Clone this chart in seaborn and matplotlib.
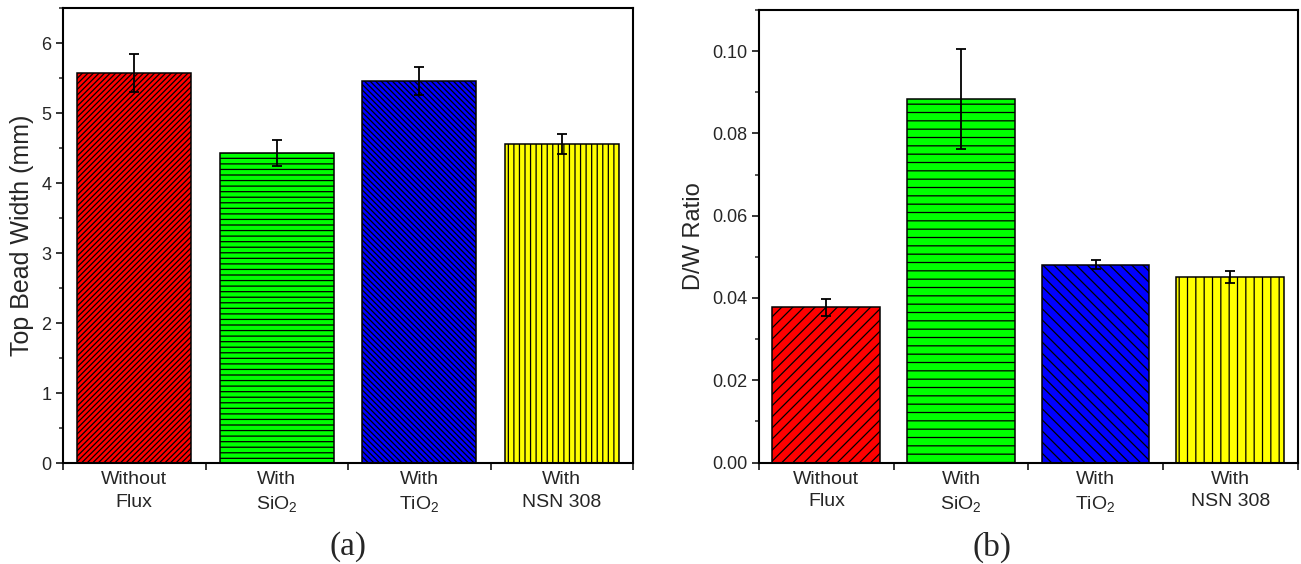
import numpy as np
import pandas as pd
import matplotlib
matplotlib.use("Agg")
import matplotlib.pyplot as plt
import matplotlib.ticker as ticker
import seaborn as sns

# ---------------------------------------------------------------------------
# DATA
# ---------------------------------------------------------------------------
categories = ["Without\nFlux", "With\nSiO$_2$", "With\nTiO$_2$", "With\nNSN 308"]
bead_width = [5.57, 4.43, 5.46, 4.56]
bead_width_err = [0.27, 0.19, 0.20, 0.14]
dw_ratio = [0.0377, 0.0883, 0.0481, 0.0451]
dw_ratio_err = [0.0021, 0.0121, 0.0011, 0.0015]

bar_colors = ["#FF0000", "#00FF00", "#0000FF", "#FFFF00"]

sns.set_theme(style="ticks")
plt.rcParams["font.family"] = ["Liberation Sans", "DejaVu Sans"]
plt.rcParams["mathtext.fontset"] = "custom"
plt.rcParams["mathtext.rm"] = "Liberation Sans"
plt.rcParams["mathtext.it"] = "Liberation Sans"
plt.rcParams["hatch.linewidth"] = 0.9
plt.rcParams["hatch.color"] = "black"

fig = plt.figure(figsize=(13.01, 5.64), dpi=100)
ax_a = fig.add_axes([63 / 1301, 1 - 463 / 564, 570 / 1301, 455 / 564])
ax_b = fig.add_axes([759 / 1301, 1 - 462.5 / 564, 538.5 / 1301, 452.5 / 564])


def draw_panel(ax, values, errors, hatches, ylim, major, minor, fmt, ylabel, ylabel_size):
    df = pd.DataFrame({"cat": categories, "val": values})
    sns.barplot(data=df, x="cat", y="val", hue="cat", palette=bar_colors,
                order=categories, hue_order=categories, dodge=False,
                width=0.8, legend=False, edgecolor="black", linewidth=1.1,
                saturation=1, ax=ax)
    for patch, h in zip(ax.patches, hatches):
        patch.set_hatch(h)
    ax.errorbar(np.arange(len(values)), values, yerr=errors, fmt="none",
                ecolor="black", elinewidth=1.3, capsize=3.6, capthick=1.3, zorder=5)

    ax.set_xlim(-0.5, len(values) - 0.5)
    ax.set_ylim(*ylim)
    ax.set_xlabel("")
    ax.set_ylabel(ylabel, fontsize=ylabel_size, labelpad=5)

    # Origin-style category axis: ticks between bars, labels under bars
    ax.set_xticks(np.arange(-0.5, len(values), 1.0))
    ax.set_xticklabels([""] * (len(values) + 1))
    ax.set_xticks(np.arange(len(values)), minor=True)
    ax.set_xticklabels(categories, minor=True, fontsize=14, linespacing=1.4)
    ax.tick_params(axis="x", which="minor", length=0, pad=6)
    ax.tick_params(axis="x", which="major", direction="out", length=5, width=1.3)

    ax.yaxis.set_major_locator(ticker.MultipleLocator(major))
    ax.yaxis.set_minor_locator(ticker.MultipleLocator(minor))
    ax.yaxis.set_major_formatter(ticker.FormatStrFormatter(fmt))
    ax.tick_params(axis="y", which="major", direction="out", length=5, width=1.3,
                   labelsize=13)
    ax.tick_params(axis="y", which="minor", direction="out", length=3, width=1.1)

    for side in ["top", "right", "left", "bottom"]:
        ax.spines[side].set_visible(True)
        ax.spines[side].set_linewidth(1.5)
        ax.spines[side].set_color("black")


draw_panel(ax_a, bead_width, bead_width_err, ["//////", "---", "\\\\\\\\\\\\", "|||"],
           (0, 6.5), 1, 0.5, "%d", "Top Bead Width (mm)", 18)
draw_panel(ax_b, dw_ratio, dw_ratio_err, ["///", "--", "\\\\\\", "||"],
           (0, 0.11), 0.02, 0.01, "%.2f", "D/W Ratio", 17)

fig.text(348 / 1301, 1 - 547 / 564, "(a)", ha="center", va="center",
         fontsize=24, family=["Liberation Serif", "DejaVu Serif"])
fig.text(992 / 1301, 1 - 547 / 564, "(b)", ha="center", va="center",
         fontsize=24, family=["Liberation Serif", "DejaVu Serif"])

fig.savefig("out.png", dpi=100)
